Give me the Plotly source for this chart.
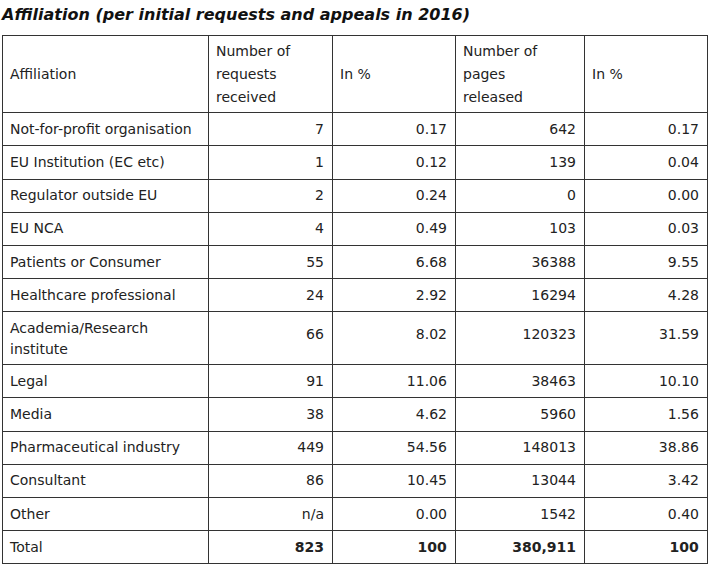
import plotly.graph_objects as go

# table contents
affiliations = ['Not-for-profit organisation', 'EU Institution (EC etc)', 'Regulator outside EU',
                'EU NCA', 'Patients or Consumer', 'Healthcare professional',
                'Academia/Research<br>institute', 'Legal', 'Media', 'Pharmaceutical industry',
                'Consultant', 'Other']
requests = ['7', '1', '2', '4', '55', '24', '66', '91', '38', '449', '86', 'n/a']
requestsPct = [0.17, 0.12, 0.24, 0.49, 6.68, 2.92, 8.02, 11.06, 4.62, 54.56, 10.45, 0.00]
pages = [642, 139, 0, 103, 36388, 16294, 120323, 38463, 5960, 148013, 13044, 1542]
pagesPct = [0.17, 0.04, 0.00, 0.03, 9.55, 4.28, 31.59, 10.10, 1.56, 38.86, 3.42, 0.40]
totals = ['Total', '823', '100', '380,911', '100']

headers = ['Affiliation', 'Number of<br>requests<br>received', 'In %',
           'Number of<br>pages<br>released', 'In %']

W, H = 709, 568
FONT = 'DejaVu Sans'
LINE = '#333333'
TXT = 14

tall = affiliations.index('Academia/Research<br>institute')


def small(txt):
    # outer font sets line spacing / offset, inner span keeps the glyph size;
    # a <br> stops plotly from auto-wrapping the markup
    if '<br>' not in txt:
        txt = txt + '<br>'
    return '<span style="font-size:%dpx">%s</span>' % (TXT, txt)


def numCol(vals):
    # empty lead lines (tiny outer font) push numbers down; two for the tall row
    out = []
    for i, v in enumerate(vals):
        lead = '<br><br>' if i == tall else '<br>'
        out.append(lead + '<span style="font-size:%dpx">%s</span>' % (TXT, v))
    return out


def headerCell(txt):
    if '<br>' not in txt:
        txt = ' <br>' + txt + '<br> '
    return small(txt)


def bold(txt):
    return '<b>' + txt + '</b>'


col0 = [small(a) for a in affiliations] + [small(totals[0])]
col1 = numCol(requests + [bold(totals[1])])
col2 = numCol(['%.2f' % v for v in requestsPct] + [bold(totals[2])])
col3 = numCol([str(v) for v in pages] + [bold(totals[3])])
col4 = numCol(['%.2f' % v for v in pagesPct] + [bold(totals[4])])

fig = go.Figure(data=[go.Table(
    domain=dict(x=[2 / W, 707 / W], y=[0, 1 - 35 / H]),
    columnwidth=[206, 124, 123, 129, 123],
    header=dict(values=[headerCell(h) for h in headers],
                align='left',
                height=77,
                fill_color='white',
                line=dict(color=LINE, width=1),
                font=dict(family=FONT, size=17.6, color='#222222')),
    cells=dict(values=[col0, col1, col2, col3, col4],
               align=['left', 'right', 'right', 'right', 'right'],
               height=33.2,
               fill_color='white',
               line=dict(color=LINE, width=1),
               font=dict(family=FONT, color='#222222', size=[16, 7.2, 7.2, 7.2, 7.2])),
)])

fig.update_layout(
    width=W, height=H,
    margin=dict(l=0, r=0, t=0, b=0),
    paper_bgcolor='white',
    title=dict(text='Affiliation (per initial requests and appeals in 2016)',
               x=2 / W, xanchor='left', xref='paper',
               y=1 - 14 / H, yanchor='middle', yref='container',
               font=dict(family=FONT, size=16, color='#111111', weight='bold', style='italic')),
)

# page body has an 8px margin by default; drop it so the figure sits at 0,0
fig.write_html("out.html", config={'displayModeBar': False},
               post_script="document.body.style.margin='0px';")
